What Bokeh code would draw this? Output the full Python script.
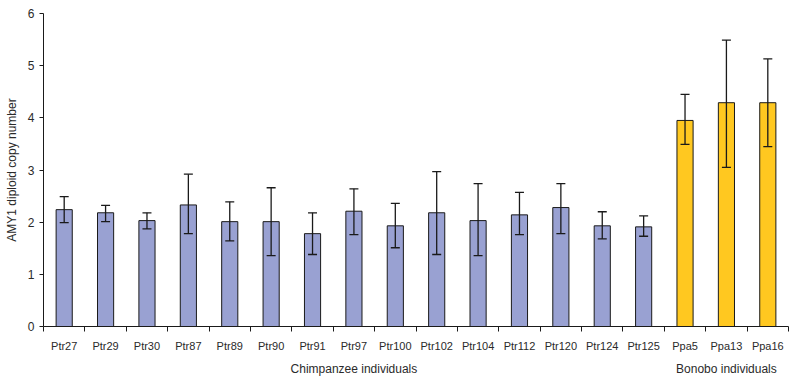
from bokeh.plotting import figure
from bokeh.models import (ColumnDataSource, FixedTicker, LinearAxis, Whisker,
                          TeeHead, Range1d)
from bokeh.embed import file_html
from bokeh.resources import INLINE

# ---- data ----
categories = ["Ptr27", "Ptr29", "Ptr30", "Ptr87", "Ptr89", "Ptr90", "Ptr91",
              "Ptr97", "Ptr100", "Ptr102", "Ptr104", "Ptr112", "Ptr120",
              "Ptr124", "Ptr125", "Ppa5", "Ppa13", "Ppa16"]
species = ["chimp"] * 15 + ["bonobo"] * 3
copy_number = [2.24, 2.18, 2.03, 2.33, 2.01, 2.01, 1.78, 2.21, 1.93, 2.18,
               2.03, 2.14, 2.28, 1.93, 1.91, 3.95, 4.29, 4.29]
err_upper = [2.49, 2.32, 2.18, 2.92, 2.39, 2.66, 2.18, 2.64, 2.36, 2.97,
             2.74, 2.57, 2.74, 2.20, 2.12, 4.45, 5.49, 5.13]
err_lower = [1.99, 2.01, 1.87, 1.78, 1.64, 1.36, 1.38, 1.76, 1.51, 1.38,
             1.36, 1.76, 1.78, 1.68, 1.73, 3.49, 3.05, 3.45]
group_labels = ["Chimpanzee individuals", "Bonobo individuals"]
group_sizes = [15, 3]
y_ticks = [0, 1, 2, 3, 4, 5, 6]
y_title = "AMY1 diploid copy number"
species_colors = {"chimp": "#99A1D2", "bonobo": "#FFC820"}

n = len(categories)
xs = [i + 0.5 for i in range(n)]
src = ColumnDataSource(dict(
    x=xs, top=copy_number, upper=err_upper, lower=err_lower,
    color=[species_colors[s] for s in species],
))

FONT = "Liberation Sans"
TXT = "#2a2a2a"
LINE = "#1a1a1a"

p = figure(width=790, height=378, x_range=Range1d(0, n), y_range=Range1d(0, 6),
           output_backend="svg", toolbar_location=None, x_axis_location=None,
           min_border_left=43, min_border_right=2, min_border_top=13,
           min_border_bottom=52)
p.outline_line_color = None
p.xgrid.visible = False
p.ygrid.visible = False
p.background_fill_color = "white"
p.border_fill_color = "white"

p.vbar(x="x", top="top", bottom=0, width=0.39, fill_color="color",
       line_color=LINE, line_width=1, source=src)

w = Whisker(base="x", upper="upper", lower="lower", source=src,
            line_color=LINE, line_width=1.3, level="annotation",
            upper_head=TeeHead(size=9, line_color=LINE, line_width=1.3),
            lower_head=TeeHead(size=9, line_color=LINE, line_width=1.3))
p.add_layout(w)

# y axis
ya = p.yaxis[0]
ya.ticker = FixedTicker(ticks=y_ticks)
ya.major_tick_out = 4
ya.major_tick_in = 0
ya.minor_tick_line_color = None
ya.axis_line_color = LINE
ya.major_tick_line_color = LINE
ya.major_label_standoff = 5
ya.major_label_text_font = FONT
ya.major_label_text_font_size = "12px"
ya.major_label_text_color = TXT
ya.axis_label = y_title
ya.axis_label_text_font = FONT
ya.axis_label_text_font_size = "12px"
ya.axis_label_text_font_style = "normal"
ya.axis_label_text_color = TXT
ya.axis_label_standoff = 6

# x axis: category labels at centres, tick marks at boundaries
ax1 = LinearAxis(ticker=FixedTicker(ticks=xs, minor_ticks=list(range(n + 1))),
                 major_label_overrides={x: c for x, c in zip(xs, categories)})
ax1.major_tick_line_color = None
ax1.major_tick_out = 5
ax1.major_tick_in = 0
ax1.minor_tick_out = 5
ax1.minor_tick_in = 0
ax1.minor_tick_line_color = LINE
ax1.axis_line_color = LINE
ax1.major_label_standoff = 8
ax1.major_label_text_font = FONT
ax1.major_label_text_font_size = "11px"
ax1.major_label_text_color = TXT
p.add_layout(ax1, "below")

# group labels
centers = []
start = 0
for s in group_sizes:
    centers.append(start + s / 2)
    start += s
ax2 = LinearAxis(ticker=FixedTicker(ticks=centers),
                 major_label_overrides={c: g for c, g in zip(centers, group_labels)})
ax2.axis_line_color = None
ax2.major_tick_line_color = None
ax2.minor_tick_line_color = None
ax2.major_tick_out = 0
ax2.major_tick_in = 0
ax2.major_label_standoff = 7
ax2.major_label_text_font = FONT
ax2.major_label_text_font_size = "12px"
ax2.major_label_text_color = TXT
p.add_layout(ax2, "below")

open("out.html", "w").write(file_html(p, INLINE))
